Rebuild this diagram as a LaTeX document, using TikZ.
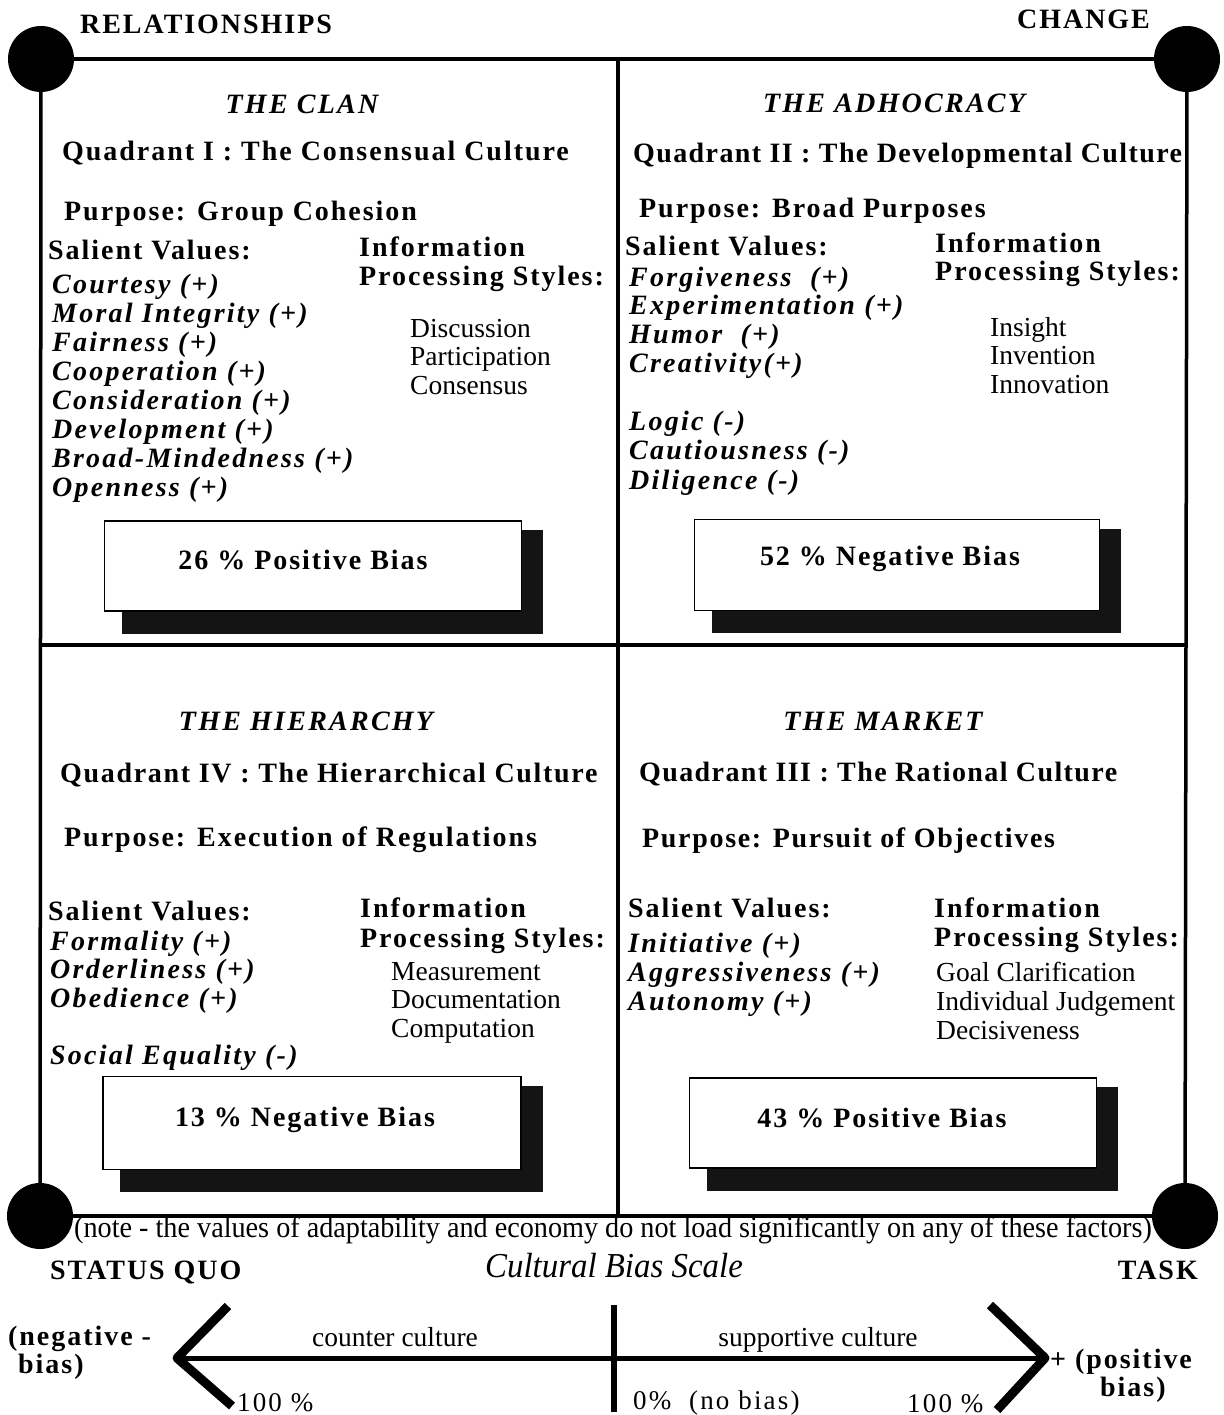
\documentclass[tikz,border=0pt]{standalone}
\usepackage{fontspec}
\setmainfont{Liberation Serif}
\newfontfamily\spacedfont[LetterSpace=7]{Liberation Serif}
\newfontfamily\midspacedfont[LetterSpace=6]{Liberation Serif}
\newfontfamily\tightspacedfont[LetterSpace=5]{Liberation Serif}
\newfontfamily\spaceditfont[LetterSpace=8]{Liberation Serif}
\newfontfamily\pctfont[LetterSpace=8]{Liberation Serif}
\newfontfamily\notefont[FakeStretch=0.94]{Liberation Serif}
\usetikzlibrary{backgrounds,calc}

\tikzset{
  frame/.style={line width=3.5pt},
  corner/.style={circle, fill=black, minimum size=66pt, inner sep=0pt},
  hd/.style={inner sep=0pt, font={\fontsize{28}{30}\selectfont\spacedfont\bfseries}},
  hdm/.style={inner sep=0pt, font={\fontsize{28}{30}\selectfont\midspacedfont\bfseries}},
  hdt/.style={inner sep=0pt, font={\fontsize{28}{30}\selectfont\tightspacedfont\bfseries}},
  hdi/.style={inner sep=0pt, font={\fontsize{28}{30}\selectfont\spaceditfont\bfseries\itshape}},
  val/.style={hdi, anchor=base west},
  lst/.style={inner sep=0pt, anchor=base west, font={\fontsize{27.5}{29}\selectfont}},
  pct/.style={inner sep=0pt, anchor=base west, font={\fontsize{27}{29}\selectfont\pctfont}},
  scalelbl/.style={inner sep=0pt, anchor=base, font={\fontsize{27.5}{30}\selectfont}},
  biasbox/.style={draw, line width=1.2pt, fill=white, inner sep=0pt},
  biastext/.style={hd},
  shade/.style={fill=black!92},
}

\begin{document}
\begin{tikzpicture}[x=1pt, y=-1pt]
\begin{scope}[on background layer]
  \fill[white] (0,0) rectangle (1223,1415);
\end{scope}
\useasboundingbox (0,0) rectangle (1223,1415);

% corner discs and the outer frame
\node[corner] (TL) at (41,59) {};
\node[corner] (TR) at (1187,59) {};
\node[corner] (BL) at (40,1216) {};
\node[corner] (BR) at (1185,1216) {};
\draw[frame] (TL.center) -- (TR.center);
\draw[frame] (TL.center) -- (BL.center);
\draw[frame] (TR.center) -- (BR.center);
\draw[frame] (BL.center) -- (BR.center);

% inner cross
\coordinate (tm) at (618,59);
\coordinate (bm) at (618,1216);
\coordinate (ml) at (41,645);
\coordinate (mr) at (1187,645);
\draw[frame] (tm) -- (bm);
\draw[frame, line width=4.5pt] (ml) -- (mr);

% corner labels
\node[hd, anchor=base west] (rel) at (80,34) {RELATIONSHIPS};
\node[hd, anchor=base west] (chg) at (1017,29) {CHANGE};
\node[hd, anchor=base west] (sq) at (50,1279) {STATUS QUO};
\node[hd, anchor=base east] (task) at (1198,1279) {TASK};

% Quadrant I
\node[hdi, anchor=base] (t1) at (302,114) {THE CLAN};
\node[hd, anchor=base west] (q1) at (62,161) {Quadrant I : The Consensual Culture};
\node[hd, anchor=base west] (p1) at (64,221) {Purpose: Group Cohesion};
\node[hd, anchor=base west] (s1) at (48,259) {Salient Values:};
\node[hd, anchor=base west] (i1) at (359,256) {Information};
\node[hd, anchor=base west] (ps1) at (359,285) {Processing Styles:};
\foreach \t [count=\i] in {Courtesy (+), Moral Integrity (+), Fairness (+), Cooperation (+),
    Consideration (+), Development (+), Broad-Mindedness (+), Openness (+)}
  \node[val] (v1-\i) at (52,293+29*\i-29) {\t};
\foreach \t [count=\i] in {Discussion, Participation, Consensus}
  \node[lst] (l1-\i) at (410,337+28.5*\i-28.5) {\t};
\node[biasbox, minimum width=417pt, minimum height=90pt] (b1) at (313,566) {};
\node[biastext] (bt1) at (303,560) {26 \% Positive Bias};

% Quadrant II
\node[hdi, anchor=base] (t2) at (894,113) {THE ADHOCRACY};
\node[hdt, anchor=base west] (q2) at (633,163) {Quadrant II : The Developmental Culture};
\node[hd, anchor=base west] (p2) at (639,218) {Purpose: Broad Purposes};
\node[hd, anchor=base west] (s2) at (625,255) {Salient Values:};
\node[hd, anchor=base west] (i2) at (935,252) {Information};
\node[hd, anchor=base west] (ps2) at (935,280) {Processing Styles:};
\foreach \t [count=\i] in {Forgiveness\ \ (+), Experimentation (+), Humor\ \ (+), Creativity(+)}
  \node[val] (v2-\i) at (629,286+28.8*\i-28.8) {\t};
\foreach \t [count=\i] in {Logic (-), Cautiousness (-), Diligence (-)}
  \node[val] (w2-\i) at (629,430+29.5*\i-29.5) {\t};
\foreach \t [count=\i] in {Insight, Invention, Innovation}
  \node[lst] (l2-\i) at (990,336+28.5*\i-28.5) {\t};
\node[biasbox, minimum width=405pt, minimum height=91pt] (b2) at (897,565) {};
\node[biastext] (bt2) at (890,559) {52 \% Negative Bias};

% Quadrant IV
\node[hdi, anchor=base] (t4) at (306,730) {THE HIERARCHY};
\node[hdm, anchor=base west] (q4) at (60,782) {Quadrant IV : The Hierarchical Culture};
\node[hd, anchor=base west] (p4) at (64,846) {Purpose: Execution of Regulations};
\node[hd, anchor=base west] (s4) at (48,920) {Salient Values:};
\node[hd, anchor=base west] (i4) at (360,917) {Information};
\node[hd, anchor=base west] (ps4) at (360,947) {Processing Styles:};
\foreach \t [count=\i] in {Formality (+), Orderliness (+), Obedience (+)}
  \node[val] (v4-\i) at (50,950+28.5*\i-28.5) {\t};
\node[val] (w4-1) at (50,1064) {Social Equality (-)};
\foreach \t [count=\i] in {Measurement, Documentation, Computation}
  \node[lst] (l4-\i) at (391,980+28.5*\i-28.5) {\t};
\node[biasbox, minimum width=418pt, minimum height=93pt] (b4) at (312,1123) {};
\node[biastext] (bt4) at (305,1120) {13 \% Negative Bias};

% Quadrant III
\node[hdi, anchor=base] (t3) at (883,730) {THE MARKET};
\node[hdt, anchor=base west] (q3) at (639,781) {Quadrant III : The Rational Culture};
\node[hdm, anchor=base west] (p3) at (642,847) {Purpose: Pursuit of Objectives};
\node[hd, anchor=base west] (s3) at (628,917) {Salient Values:};
\node[hd, anchor=base west] (i3) at (934,917) {Information};
\node[hd, anchor=base west] (ps3) at (934,946) {Processing Styles:};
\foreach \t [count=\i] in {Initiative (+), Aggressiveness (+), Autonomy (+)}
  \node[val] (v3-\i) at (628,952+29*\i-29) {\t};
\foreach \t [count=\i] in {Goal Clarification, Individual Judgement, Decisiveness}
  \node[lst] (l3-\i) at (936,981+29*\i-29) {\t};
\node[biasbox, minimum width=407pt, minimum height=90pt] (b3) at (893,1123) {};
\node[biastext] (bt3) at (882,1118) {43 \% Positive Bias};

% drop shadows behind the bias boxes
\begin{scope}[on background layer]
  \foreach \b in {b1,b2,b3,b4}
    \fill[shade] ($(\b.north west)+(18,10)$) rectangle ($(\b.south east)+(21,22)$);
\end{scope}

% footnote and scale title
\node[inner sep=0pt, anchor=base, font={\fontsize{30}{32}\selectfont\notefont}] (note) at (613,1237)
  {(note - the values of adaptability and economy do not load significantly on any of these factors)};
\node[inner sep=0pt, anchor=base, font={\fontsize{35}{36}\selectfont\notefont\itshape}] (cbs) at (614,1277)
  {Cultural Bias Scale};

% bias scale
\coordinate (nt) at (177,1358);
\coordinate (na) at (228,1306);
\coordinate (nb) at (232,1406);
\coordinate (pt) at (1045,1358);
\coordinate (pa) at (990,1305);
\coordinate (pb) at (997,1410);
\coordinate (zt) at (614,1305);
\coordinate (zb) at (614,1412);
\draw[line width=5pt] (nt) -- (pt);
\draw[line width=9pt, line join=round] (na) -- (nt) -- (nb);
\draw[line width=9pt, line join=round] (pa) -- (pt) -- (pb);
\draw[line width=6pt] (zt) -- (zb);

\node[hd, anchor=base west] (neg1) at (8,1345) {(negative -};
\node[hd, anchor=base west] (neg2) at (18,1373) {bias)};
\node[hd, anchor=base west] (pos1) at (1050,1368) {+ (positive};
\node[hd, anchor=base west] (pos2) at (1100,1396) {bias)};
\node[scalelbl] (cc) at (395,1346) {counter culture};
\node[scalelbl] (sc) at (818,1346) {supportive culture};
\node[pct] (n100) at (237,1411) {100 \%};
\node[pct] (zero) at (633,1409) {0\%\ \ (no bias)};
\node[pct] (p100) at (907,1412) {100 \%};
\end{tikzpicture}
\end{document}
